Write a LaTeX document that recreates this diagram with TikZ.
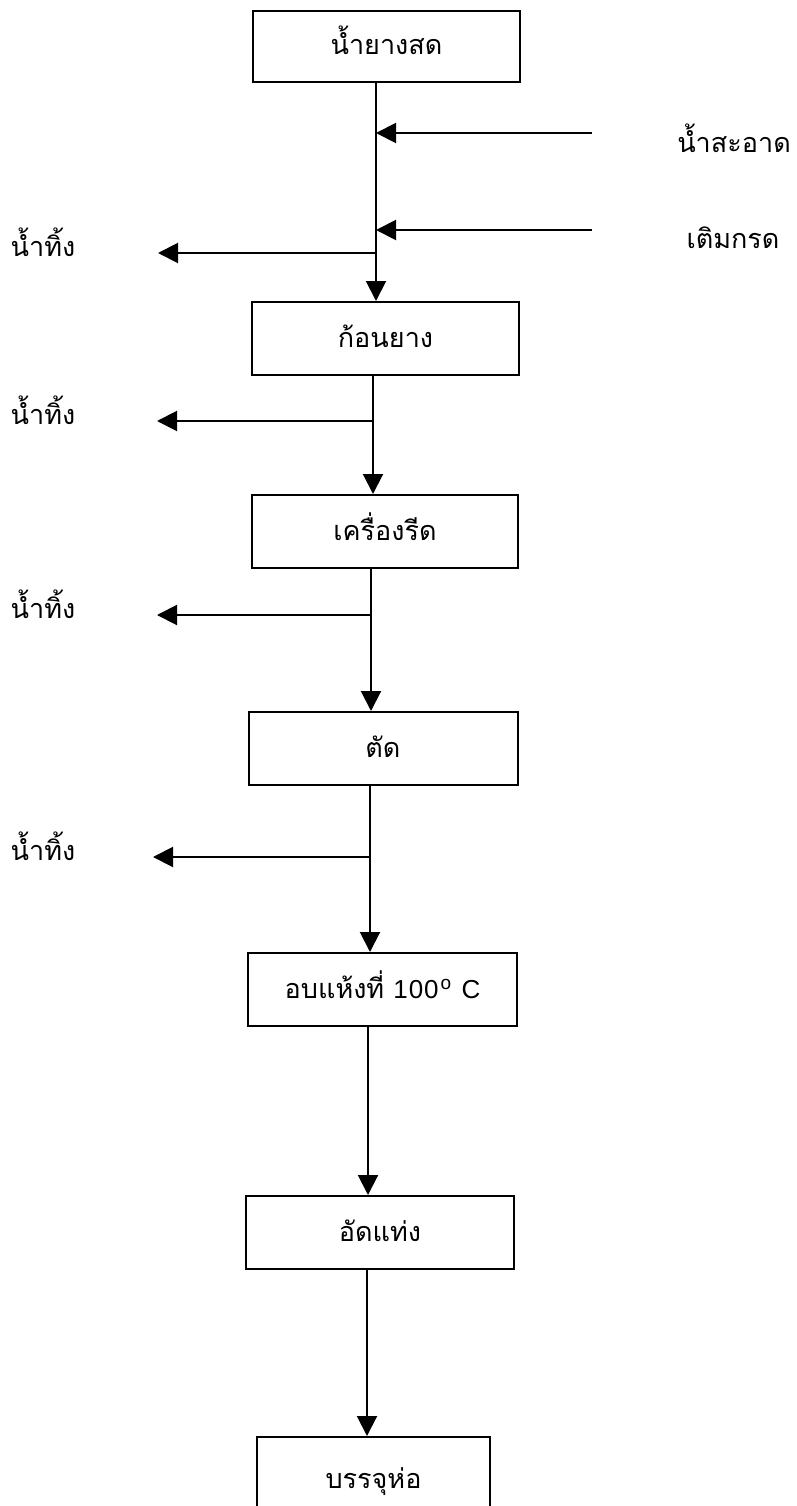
\documentclass[tikz,border=0pt]{standalone}
\usepackage{fontspec}
\setmainfont{Loma}[Script=Thai]
\newfontfamily\latinsans{Liberation Sans}
\usetikzlibrary{arrows.meta}
\tikzset{
  box/.style={draw, line width=2pt, rectangle, inner sep=0pt, text height=17pt, text depth=0pt, font=\fontsize{27}{31}\selectfont},
  flow/.style={line width=2pt, -{Triangle[length=20pt,width=20pt]}},
  lbl/.style={anchor=base, inner sep=0pt, font=\fontsize{27}{31}\selectfont}
}
\begin{document}
\begin{tikzpicture}[x=1pt,y=-1pt]
\useasboundingbox (0,0) rectangle (797,1506);
% boxes
\node[box, minimum width=267pt, minimum height=71pt] (b1) at (386.5,46.5) {น้ำยางสด};
\node[box, minimum width=267pt, minimum height=73pt] (b2) at (385.5,338.5) {ก้อนยาง};
\node[box, minimum width=266pt, minimum height=73pt] (b3) at (385,531.5) {เครื่องรีด};
\node[box, minimum width=269pt, minimum height=73pt] (b4) at (383,748.5) {ตัด};
\node[box, minimum width=269pt, minimum height=73pt] (b5) at (382.5,989.5) {อบแห้งที่ {\latinsans\fontsize{26}{30}\selectfont 1\kern1pt0\kern1pt0\kern2pt\raisebox{9pt}{\fontsize{19}{19}\selectfont o}\kern3pt\ C}};
\node[box, minimum width=268pt, minimum height=73pt] (b6) at (380,1232.5) {อัดแท่ง};
\node[box, minimum width=233pt, minimum height=86pt] (b7) at (373.5,1480) {บรรจุห่อ};
% junction coordinates on the main line
\coordinate (j1) at (376,133);
\coordinate (j2) at (376,230);
\coordinate (j3) at (376,253);
\coordinate (j4) at (373,421);
\coordinate (j5) at (371,615);
\coordinate (j6) at (370,857);
\coordinate (j7) at (368,1100);
\coordinate (j8) at (367,1350);
% free ends
\coordinate (i1) at (592,133);
\coordinate (i2) at (592,230);
\coordinate (o1) at (158,253);
\coordinate (o2) at (157,421);
\coordinate (o3) at (157,615);
\coordinate (o4) at (153,857);
% main flow
\draw[flow] (b1.south -| j1) -- (b2.north -| j1);
\draw[flow] (b2.south -| j4) -- (b3.north -| j4);
\draw[flow] (b3.south -| j5) -- (b4.north -| j5);
\draw[flow] (b4.south -| j6) -- (b5.north -| j6);
\draw[flow] (b5.south -| j7) -- (b6.north -| j7);
\draw[flow] (b6.south -| j8) -- (b7.north -| j8);
% inputs
\draw[flow] (i1) -- (j1);
\draw[flow] (i2) -- (j2);
% outputs
\draw[flow] (j3) -- (o1);
\draw[flow] (j4) -- (o2);
\draw[flow] (j5) -- (o3);
\draw[flow] (j6) -- (o4);
% labels
\node[lbl] (l1) at (734,153) {น้ำสะอาด};
\node[lbl] (l2) at (733,248) {เติมกรด};
\node[lbl] (w1) at (43,256) {น้ำทิ้ง};
\node[lbl] (w2) at (43,424) {น้ำทิ้ง};
\node[lbl] (w3) at (43,618) {น้ำทิ้ง};
\node[lbl] (w4) at (43,860) {น้ำทิ้ง};
\end{tikzpicture}
\end{document}
